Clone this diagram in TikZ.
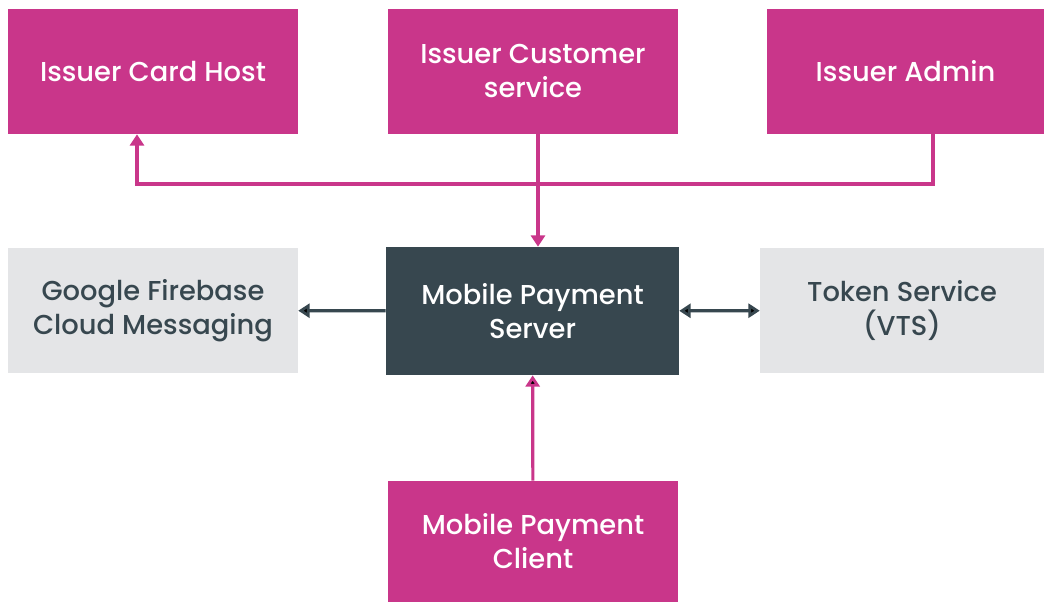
\documentclass[tikz,border=0pt]{standalone}
\usepackage{fontspec}
\setmainfont{Poppins}[UprightFont={* Medium}]
\usepackage{tikz}
\usetikzlibrary{arrows.meta}
\definecolor{issuer}{HTML}{C9368A}
\definecolor{server}{HTML}{37474F}
\definecolor{extern}{HTML}{E4E5E7}
\tikzset{>={Triangle[length=8.5pt,width=10.5pt]}}

\begin{document}
\begin{tikzpicture}
[x=0.75pt, y=-0.75pt,
box/.style={rectangle, inner sep=0pt, align=center, minimum width=217.5pt, minimum height=93.75pt, font=\fontsize{20.5}{25.5}\selectfont},
pinkbox/.style={box, fill=issuer, text=white},
darkbox/.style={box, fill=server, text=white},
greybox/.style={box, fill=extern, text=server},
pinkline/.style={draw=issuer, line width=2.4pt},
darkline/.style={draw=server, line width=2.4pt}]
\useasboundingbox (0,0) rectangle (1044,602);
% top row: issuer side
\node[pinkbox] (ich) at (153,71.5) {Issuer Card Host};
\node[pinkbox] (ics) at (533,71.5) {Issuer Customer\\service};
\node[pinkbox, minimum width=207.75pt] (ia) at (905.5,71.5) {Issuer Admin};
% middle row
\node[greybox] (fcm) at (153,310.5) {Google Firebase\\Cloud Messaging};
\node[darkbox, minimum width=219.75pt, minimum height=96pt] (mps) at (532.5,311) {Mobile Payment\\Server};
\node[greybox, minimum width=213pt] (tok) at (902,310.5) {Token Service\\(VTS)};
% bottom
\node[pinkbox, minimum height=90.75pt] (mpc) at (533,541.5) {Mobile Payment\\Client};
\coordinate (adm) at (933,184);
\coordinate (card) at (137,184);
\coordinate (cust) at (538,0);
\draw[pinkline, ->] (ia.south -| adm) -- (adm) -- (card) -- (ich.south -| card);
\draw[pinkline, ->] (ics.south -| cust) -- (mps.north -| cust);
\path[->, pinkline]
(mpc) edge (mps)
;
\path[->, darkline]
(mps) edge (fcm)
(mps) edge[<->] (tok)
;
\end{tikzpicture}
\end{document}
